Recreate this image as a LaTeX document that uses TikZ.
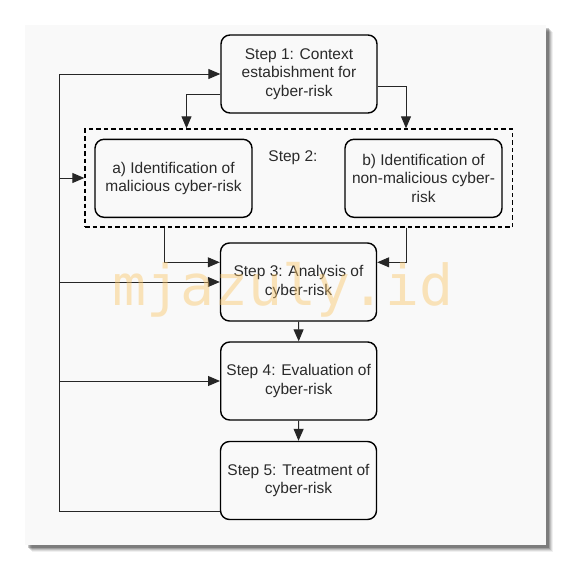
\documentclass[tikz,border=0pt]{standalone}
\usepackage{fontspec}
\setmainfont{Liberation Sans}
\newfontfamily\wmfont{DejaVu Sans Mono}
\usetikzlibrary{arrows.meta,calc}
\definecolor{panel}{HTML}{F9F9F9}
\definecolor{txt}{HTML}{2A2A2A}
\definecolor{wm}{HTML}{FBC76B}
\tikzset{
  stepbox/.style={draw=black, line width=1.4pt, rounded corners=9pt, fill=panel,
    minimum width=156pt, minimum height=78pt, inner sep=0pt, align=center,
    text=txt, font=\fontsize{15.5pt}{18.5pt}\selectfont},
  grpbox/.style={draw=black, line width=1.4pt, dash pattern=on 4.5pt off 3pt,
    minimum width=427.5pt, minimum height=98pt, inner sep=0pt},
  arr/.style={draw=black!85, line width=1pt, -{Triangle[length=12pt,width=10pt]}},
  conn/.style={draw=black!85, line width=1pt},
  lbl/.style={text=txt, font=\fontsize{15.5pt}{18.5pt}\selectfont, inner sep=0pt}
}
\begin{document}
\begin{tikzpicture}[x=1pt,y=-1pt]
\useasboundingbox (0,0) rectangle (571,570);
% shadow
\foreach \o/\op in {7/0.06,6/0.09,5/0.12,4/0.16,3/0.22}{
  \fill[black,opacity=\op] (25+\o,25+\o) rectangle (546+\o,545+\o);
}
\fill[panel] (25,25) rectangle (546,545);

% nodes
\node[stepbox] (s1) at (299,74) {Step 1: Context\\estabishment for\\cyber-risk};
\node[grpbox] (grp) at (298.75,178) {};
\node[stepbox, minimum width=157pt] (a) at (173.5,178.3) {a) Identification of\\malicious cyber-risk};
\node[stepbox, minimum width=157pt] (b) at (423.5,178.3) {b) Identification of\\non-malicious cyber-\\risk};
\node[lbl] (s2) at (293,158) {Step 2:};
\node[stepbox] (s3) at (298.5,282) {Step 3: Analysis of\\cyber-risk};
\node[stepbox] (s4) at (298.7,381) {Step 4: Evaluation of\\cyber-risk};
\node[stepbox] (s5) at (298.5,480.5) {Step 5: Treatment of\\cyber-risk};
\coordinate (loop) at (59,74);

% connectors
\draw[arr] ([yshift=-20pt]s1.west) -| ([xshift=-112.25pt]grp.north);
\draw[arr] ([yshift=-12.7pt]s1.east) -| ([xshift=107.25pt]grp.north);
\draw[arr] ([yshift=-30.5pt]s5.west) -| (loop) -- (s1.west);
\draw[arr] (loop |- grp.west) -- (grp.west);
\draw[arr] (loop |- s3.west) -- (s3.west);
\draw[arr] (loop |- s4.west) -- (s4.west);
\draw[arr] ([xshift=-134.75pt]grp.south) |- ([yshift=19.7pt]s3.west);
\draw[arr] ([xshift=107.25pt]grp.south) |- ([yshift=19.7pt]s3.east);
\draw[arr] (s3.south) -- (s4.north);
\draw[arr] (s4.south) -- (s5.north);

% watermark
\node[anchor=base, inner sep=0pt, text=wm, text opacity=0.45,
  font=\wmfont\fontsize{56.5pt}{60pt}\selectfont] (wmk) at (283,305) {mjazuly.id};
\end{tikzpicture}
\end{document}
